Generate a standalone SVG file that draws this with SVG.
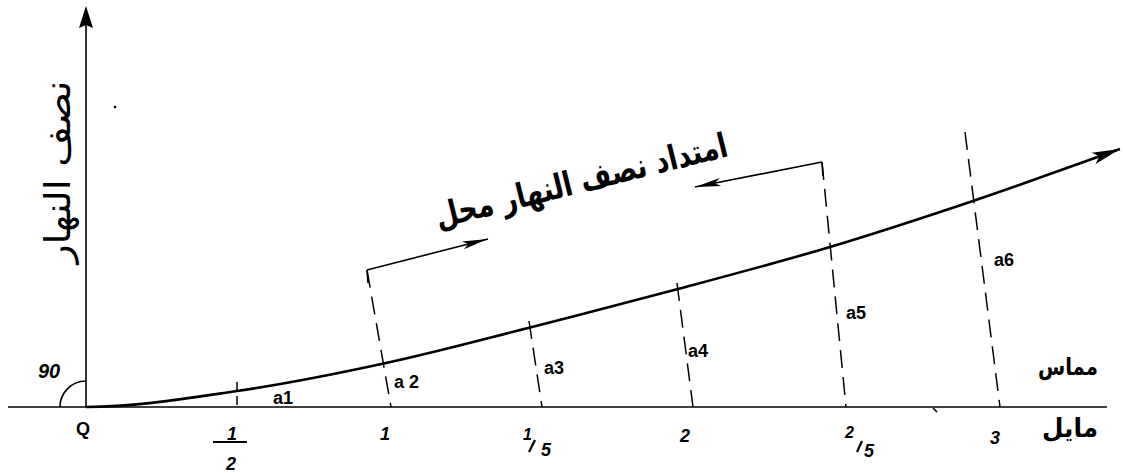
<svg xmlns="http://www.w3.org/2000/svg" width="1124" height="473" viewBox="0 0 1124 473">
<style>
.ln{fill:none;stroke:#000;stroke-width:1.6}
.thick{fill:none;stroke:#000;stroke-width:2.6}
.dash{fill:none;stroke:#000;stroke-width:1.5;stroke-dasharray:18 9}
.lbl{font-family:"Liberation Sans",Arial,sans-serif;font-weight:bold;font-size:18px;fill:#000}
.num{font-family:"Liberation Sans",Arial,sans-serif;font-weight:bold;font-style:italic;font-size:18px;fill:#000}
.ar{font-family:"DejaVu Sans","Noto Sans",sans-serif;fill:#000}
</style>
<defs>
<marker id="bigArrow" markerUnits="userSpaceOnUse" markerWidth="34" markerHeight="16" viewBox="-30 -8 32 16" refX="0" refY="0" orient="auto">
<path d="M0,0 L-28,-6 L-22,0 L-28,6 Z" fill="#000"/>
</marker>
<marker id="smallArrow" markerUnits="userSpaceOnUse" markerWidth="30" markerHeight="10" viewBox="-28 -5 30 10" refX="0" refY="0" orient="auto">
<path d="M0,0 L-26,-4 L-20,0 L-26,4 Z" fill="#000"/>
</marker>
</defs>
<g id="axes">
<line class="ln" x1="8" y1="407" x2="1107" y2="407"/>
<line class="ln" x1="86" y1="407" x2="86" y2="24"/>
<path d="M86,6 L93,28 L86,25 L79,28 Z" fill="#000"/>
<path class="ln" d="M60,407 A26,26 0 0 1 86,381"/>
<circle cx="115" cy="107" r="1.3" fill="#000"/>
<path d="M933,408 L937,412" class="ln"/>
</g>
<g id="connectors">
<path class="thick" marker-end="url(#bigArrow)" d="M86,407 C136,407 187,398.3 237,391 C287,383.7 336.8,373.7 386,363 C435.2,352.3 483.3,339.3 532,327 C580.7,314.7 628.3,302.3 678,289 C727.7,275.7 780.8,261.7 830,247 C879.2,232.3 926,216.8 973,201 C1020,185.2 1065.7,168.3 1120,149"/>
<line class="dash" style="stroke-dasharray:9 5" x1="237" y1="382" x2="237" y2="407"/>
<line class="dash" x1="367" y1="270" x2="391" y2="407"/>
<line class="dash" x1="529" y1="321" x2="542" y2="407"/>
<line class="dash" x1="677" y1="283" x2="693" y2="407"/>
<line class="dash" x1="822" y1="162" x2="846" y2="407"/>
<line class="dash" x1="965" y1="132" x2="1000" y2="407"/>
<line class="ln" x1="367" y1="270" x2="368" y2="283"/>
<line class="ln" marker-end="url(#smallArrow)" x1="367" y1="270" x2="488" y2="239"/>
<line class="ln" x1="822" y1="162" x2="823" y2="176"/>
<line class="ln" marker-end="url(#smallArrow)" x1="822" y1="162" x2="695" y2="187"/>
</g>
<g id="labels">
<text class="num" x="38" y="378" style="font-size:20px">90</text>
<text class="lbl" x="76" y="435">Q</text>
<text class="num" x="227" y="440">1</text>
<line x1="213" y1="442" x2="247" y2="442" stroke="#000" stroke-width="2"/>
<text class="num" x="226" y="470">2</text>
<text class="num" x="380" y="440">1</text>
<text class="num" x="523" y="440" style="font-size:16px">1</text>
<line x1="529" y1="452" x2="535" y2="440" stroke="#000" stroke-width="2.2"/>
<text class="num" x="541" y="456">5</text>
<text class="num" x="680" y="442">2</text>
<text class="num" x="845" y="438" style="font-size:16px">2</text>
<line x1="857" y1="452" x2="862" y2="441" stroke="#000" stroke-width="2.2"/>
<text class="num" x="864" y="457">5</text>
<text class="num" x="990" y="444">3</text>
<text class="lbl" x="273" y="404">a1</text>
<text class="lbl" x="394" y="388">a 2</text>
<text class="lbl" x="544" y="374">a3</text>
<text class="lbl" x="688" y="357">a4</text>
<text class="lbl" x="846" y="319">a5</text>
<text class="lbl" x="994" y="266">a6</text>
<text class="ar" font-size="36" text-anchor="middle" textLength="183" lengthAdjust="spacingAndGlyphs" transform="translate(70,172) rotate(-90)">نصف النهار</text>
<text class="ar" font-size="34" font-weight="bold" text-anchor="middle" textLength="300" lengthAdjust="spacingAndGlyphs" transform="translate(584,192) rotate(-14)">امتداد نصف النهار محل</text>
<text class="ar" font-size="24" font-weight="bold" text-anchor="middle" textLength="60" lengthAdjust="spacingAndGlyphs" x="1068" y="375">مماس</text>
<text class="ar" font-size="26" font-weight="bold" text-anchor="middle" textLength="56" lengthAdjust="spacingAndGlyphs" x="1070" y="437">مايل</text>
</g>
</svg>
